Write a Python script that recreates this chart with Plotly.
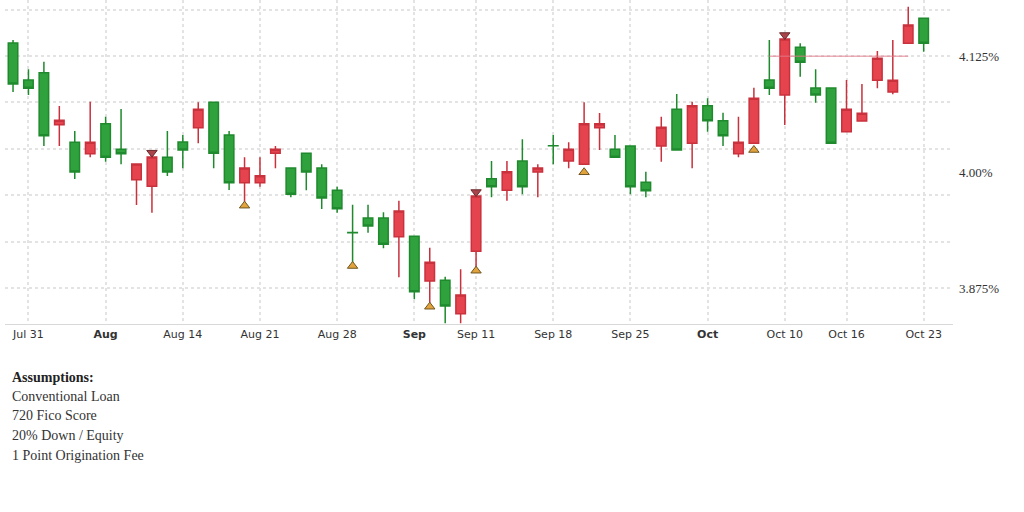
import plotly.graph_objects as go

# ---- data -------------------------------------------------------------
dates = [
    "2017-07-28", "2017-07-31", "2017-08-01", "2017-08-02", "2017-08-03", "2017-08-04",
    "2017-08-07", "2017-08-08", "2017-08-09", "2017-08-10", "2017-08-11",
    "2017-08-14", "2017-08-15", "2017-08-16", "2017-08-17", "2017-08-18",
    "2017-08-21", "2017-08-22", "2017-08-23", "2017-08-24", "2017-08-25",
    "2017-08-28", "2017-08-29", "2017-08-30", "2017-08-31", "2017-09-01",
    "2017-09-05", "2017-09-06", "2017-09-07", "2017-09-08",
    "2017-09-11", "2017-09-12", "2017-09-13", "2017-09-14", "2017-09-15",
    "2017-09-18", "2017-09-19", "2017-09-20", "2017-09-21", "2017-09-22",
    "2017-09-25", "2017-09-26", "2017-09-27", "2017-09-28", "2017-09-29",
    "2017-10-02", "2017-10-03", "2017-10-04", "2017-10-05", "2017-10-06",
    "2017-10-10", "2017-10-11", "2017-10-12", "2017-10-13",
    "2017-10-16", "2017-10-17", "2017-10-18", "2017-10-19", "2017-10-20",
    "2017-10-23",
]

open_ = [
    4.1390, 4.0991, 4.1070, 4.0510, 4.0320, 4.0197,
    4.0520, 4.0245, 3.9917, 3.9846, 4.0158,
    4.0323, 4.0477, 4.0751, 4.0399, 3.9885,
    3.9885, 4.0201, 4.0043, 4.0201, 4.0043,
    3.9803, 3.9347, 3.9504, 3.9504, 3.9303,
    3.9307, 3.8825, 3.8833, 3.8473,
    3.9145, 3.9928, 3.9803, 4.0119, 4.0000,
    4.0284, 4.0119, 4.0083, 4.0477, 4.0245,
    4.0280, 3.9889, 4.0280, 4.0676, 4.0309,
    4.0714, 4.0553, 4.0197, 4.0309, 4.0991,
    4.0830, 4.1344, 4.0905, 4.0905,
    4.0434, 4.0550, 4.0988, 4.0862, 4.1387,
    4.1656,
]
high = [
    4.1422, 4.1107, 4.1189, 4.0711, 4.0442, 4.0758,
    4.0596, 4.0679, 4.0086, 4.0162, 4.0442,
    4.0399, 4.0751, 4.0751, 4.0442, 4.0158,
    4.0158, 4.0280, 4.0043, 4.0201, 4.0083,
    3.9841, 3.9648, 3.9648, 3.9566, 3.9691,
    3.9307, 3.9184, 3.8872, 3.8951,
    3.9741, 4.0119, 4.0119, 4.0352, 4.0083,
    4.0399, 4.0320, 4.0751, 4.0636, 4.0399,
    4.0280, 4.0003, 4.0596, 4.0841, 4.0758,
    4.0794, 4.0639, 4.0596, 4.0908, 4.1422,
    4.1433, 4.1387, 4.1107, 4.0905,
    4.0991, 4.0948, 4.1304, 4.1422, 4.1781,
    4.1656,
]
low = [
    4.0862, 4.0830, 4.0280, 4.0280, 3.9924, 4.0158,
    4.0111, 4.0083, 3.9644, 3.9561, 3.9957,
    4.0040, 4.0309, 4.0040, 3.9806, 3.9680,
    3.9841, 4.0040, 3.9727, 3.9803, 3.9601,
    3.9561, 3.9023, 3.9346, 3.9178, 3.8865,
    3.8628, 3.8585, 3.8370, 3.8370,
    3.8944, 3.9727, 3.9691, 3.9760, 3.9727,
    4.0083, 4.0040, 4.0083, 4.0237, 4.0158,
    3.9760, 3.9727, 4.0111, 4.0237, 4.0040,
    4.0434, 4.0280, 4.0158, 4.0309, 4.0830,
    4.0506, 4.1027, 4.0747, 4.0309,
    4.0434, 4.0550, 4.0902, 4.0837, 4.1387,
    4.1296,
]
close = [
    4.0948, 4.0902, 4.0391, 4.0557, 4.0000, 4.0320,
    4.0158, 4.0197, 4.0086, 4.0162, 4.0000,
    4.0237, 4.0676, 4.0201, 3.9885, 4.0043,
    3.9960, 4.0245, 3.9760, 4.0000, 3.9720,
    3.9604, 3.9345, 3.9418, 3.9221, 3.9580,
    3.8710, 3.9027, 3.8556, 3.8674,
    3.9741, 3.9841, 4.0003, 3.9841, 4.0043,
    4.0282, 4.0245, 4.0520, 4.0520, 4.0158,
    3.9841, 3.9798, 4.0482, 4.0237, 4.0714,
    4.0553, 4.0391, 4.0320, 4.0794, 4.0902,
    4.1433, 4.1182, 4.0830, 4.0309,
    4.0676, 4.0632, 4.1225, 4.0988, 4.1584,
    4.1387,
]

# signal markers
sell_dates = ["2017-08-10", "2017-09-11", "2017-10-10"]
sell_levels = [4.0208, 3.9784, 4.1476]
buy_dates = ["2017-08-18", "2017-08-29", "2017-09-06", "2017-09-11", "2017-09-20", "2017-10-05"]
buy_levels = [3.9637, 3.8987, 3.8548, 3.8936, 3.9997, 4.0237]

# reference level
ref_dates = ["2017-10-06", "2017-10-20"]
ref_level = [4.1246, 4.1246]

# axis ticks
tick_dates = ["2017-07-31", "2017-08-07", "2017-08-14", "2017-08-21", "2017-08-28",
              "2017-09-05", "2017-09-11", "2017-09-18", "2017-09-25", "2017-10-02",
              "2017-10-10", "2017-10-16", "2017-10-23"]
tick_labels = ["Jul 31", "<b>Aug</b>", "Aug 14", "Aug 21", "Aug 28",
               "<b>Sep</b>", "Sep 11", "Sep 18", "Sep 25", "<b>Oct</b>",
               "Oct 10", "Oct 16", "Oct 23"]
y_tick_vals = [3.875, 4.0, 4.125]
y_tick_labels = ["3.875%", "4.00%", "4.125%"]
y_grid_vals = [3.875, 3.925, 3.975, 4.025, 4.075, 4.125, 4.175]

notes_title = "Assumptions:"
notes = ["Conventional Loan", "720 Fico Score", "20% Down / Equity", "1 Point Origination Fee"]

# ---- figure -----------------------------------------------------------
fig = go.Figure()

fig.add_trace(go.Scatter(
    x=ref_dates, y=ref_level, mode="lines",
    line=dict(color="rgba(225,120,135,0.6)", width=1.5),
    hoverinfo="skip", showlegend=False,
))

fig.add_trace(go.Candlestick(
    x=dates, open=open_, high=high, low=low, close=close,
    increasing=dict(fillcolor="#e5444f", line=dict(color="#c9313c", width=1.5)),
    decreasing=dict(fillcolor="#2fa23d", line=dict(color="#1f8a2d", width=1.5)),
    whiskerwidth=0, showlegend=False,
))

fig.add_trace(go.Scatter(
    x=sell_dates, y=sell_levels, mode="markers",
    marker=dict(symbol="triangle-down", size=9, color="#a8444a",
                line=dict(color="#6b2a2e", width=1)),
    showlegend=False, hoverinfo="skip",
))
fig.add_trace(go.Scatter(
    x=buy_dates, y=buy_levels, mode="markers",
    marker=dict(symbol="triangle-up", size=9, color="#e3a33c",
                line=dict(color="#6e5522", width=1)),
    showlegend=False, hoverinfo="skip",
))

grid_color = "#e3e3e3"

fig.update_layout(
    width=1024, height=512,
    margin=dict(l=5, r=71, t=0, b=188),
    paper_bgcolor="white", plot_bgcolor="white",
    boxgap=0.12,
    showlegend=False,
    font=dict(family="DejaVu Sans", color="#333333"),
    xaxis=dict(
        type="category",
        categoryorder="array", categoryarray=dates,
        range=[-0.52, 60.9],
        rangeslider=dict(visible=False),
        tickmode="array", tickvals=tick_dates, ticktext=tick_labels,
        tickfont=dict(family="DejaVu Sans", size=11, color="#333333"),
        showgrid=True, gridcolor=grid_color, griddash="dot", gridwidth=2,
        showline=True, linecolor="#d8d8d8", linewidth=1,
        ticks="", zeroline=False,
    ),
    yaxis=dict(
        side="right",
        range=[3.8362, 4.18534],
        tickmode="array", tickvals=y_tick_vals, ticktext=y_tick_labels,
        tickfont=dict(family="Liberation Serif", size=13, color="#333333"),
        ticklabelstandoff=5,
        showgrid=False, zeroline=False, ticks="",
        minor=dict(tickmode="array", tickvals=y_grid_vals, showgrid=True,
                   gridcolor=grid_color, griddash="dot", gridwidth=2, ticks=""),
    ),
)

# assumptions text block below the chart
plot_h = 512 - 188
plot_w = 1024 - 5 - 71
text_x = (10 - 5) / plot_w
fig.add_annotation(
    xref="paper", yref="paper", x=text_x, y=(plot_h - 377) / plot_h,
    text="<b>" + notes_title + "</b>", showarrow=False,
    xanchor="left", yanchor="middle",
    font=dict(family="Liberation Serif", size=14, color="#222222"),
)
for i, line in enumerate(notes):
    fig.add_annotation(
        xref="paper", yref="paper", x=text_x, y=(plot_h - (396 + 19.7 * i)) / plot_h,
        text=line, showarrow=False, xanchor="left", yanchor="middle",
        font=dict(family="Liberation Serif", size=14, color="#333333"),
    )

fig.write_html("out.html")
